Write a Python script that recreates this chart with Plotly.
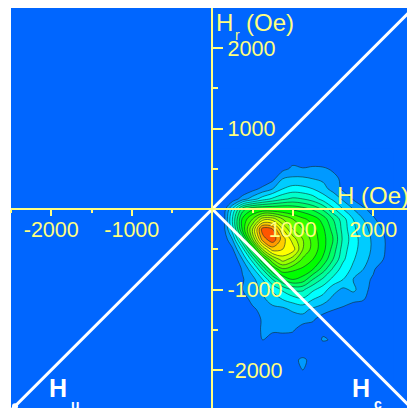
import plotly.graph_objects as go

# Grid of the distribution (Oe)
field_x = [125 * k for k in range(19)]
field_y = [750 - 125 * j for j in range(24)]

# density levels per row (top to bottom), columns follow field_x
density = [
 [0,0,0,0,0,0,0,0,0,0,0,0,0,0,0,0,0,0,0],
 [0,0,0,0,0,0,0,0,.6,0,0,0,0,0,0,0,0,0,0],
 [0,0,0,0,0,0,0,.7,1.2,1.1,1.3,1.2,.8,0,0,0,0,0,0],
 [0,0,0,0,0,0,.7,2.0,2.2,2.2,2.0,1.8,1.4,.7,0,0,0,0,0],
 [0,0,0,0,.6,1.3,2.0,3.0,3.4,3.3,3.0,2.4,1.6,.8,0,0,0,0,0],
 [0,0,.3,1.5,2.5,3.5,4.2,4.8,5.2,5.0,4.5,3.6,2.8,1.8,.9,.3,0,0,0],
 [0,0,3.0,6.5,7.8,8.0,8.0,8.0,7.8,7.4,6.8,5.8,4.2,3.0,2.0,1.2,.5,0,0],
 [0,0,4.0,8.2,10.0,12.5,12.5,11.0,10.0,9.2,8.6,7.6,6.0,4.4,3.0,2.0,1.2,.3,0],
 [0,.2,3.5,8.2,12.0,16.5,16.0,13.0,11.0,10.0,9.3,8.2,6.6,4.6,3.2,2.4,1.6,.9,0],
 [0,0,2.0,6.0,11.0,15.5,16.7,14.5,12.5,11.0,9.6,8.4,7.0,4.8,3.4,2.6,1.8,1.2,0],
 [0,0,.8,3.5,7.5,12.0,14.5,14.0,13.5,11.0,9.6,8.4,6.6,4.5,3.3,2.6,1.8,1.2,0],
 [0,0,0,2.0,4.5,8.0,11.0,12.5,11.5,9.8,9.0,7.8,6.0,4.2,3.1,2.4,1.6,1.0,0],
 [0,0,0,1.1,2.6,5.0,8.0,9.8,9.2,8.8,8.0,6.5,4.8,3.5,2.8,2.0,1.2,0,0],
 [0,0,0,.9,1.6,3.0,5.0,7.0,8.0,7.6,6.0,4.8,3.7,3.0,2.0,1.5,.8,0,0],
 [0,0,0,1.0,1.6,2.2,3.2,4.2,5.2,5.2,4.2,3.5,2.4,1.8,2.2,1.5,.5,0,0],
 [0,0,0,.5,1.3,1.8,2.4,3.0,3.4,3.8,3.0,2.5,1.7,1.7,1.4,1.1,.3,0,0],
 [0,0,0,0,.8,1.3,1.7,1.7,2.2,2.3,1.8,1.4,1.05,.7,0,0,0,0,0],
 [0,0,0,0,0,1.2,1.8,1.3,1.3,1.6,1.1,.5,0,0,0,0,0,0,0],
 [0,0,0,0,.2,1.2,1.3,1.4,1.2,.2,.6,.8,0,0,0,0,0,0,0],
 [0,0,0,0,.9,1.0,.3,.2,.3,0,.4,1.1,.9,0,0,0,0,0,0],
 [0,0,0,0,0,0,0,0,0,0,0,.3,0,0,0,0,0,0,0],
 [0,0,0,0,0,0,0,0,.6,1.3,.5,0,0,0,0,0,0,0,0],
 [0,0,0,0,0,0,0,0,0,1.0,0,0,0,0,0,0,0,0,0],
 [0,0,0,0,0,0,0,0,0,0,0,0,0,0,0,0,0,0,0],
]

band_colors = ["#0066ff","#0099ff","#00ccff","#00ffff","#00ffcc","#00ff99","#00ff66","#00ff33",
               "#00ff00","#33ff00","#66ff00","#99ff00","#ccff00","#ffff00","#ffcc00","#ff9900","#ff5500"]

# Diagonals (Oe)
diag_hu_hr_x = [-2500, 2500]
diag_hu_hr_y = [-2500, 2500]
diag_hc_x = [0, 2500]
diag_hc_y = [0, -2500]
corner_x = [-2450]
corner_y = [-2450]

major_ticks = [-2000, -1000, 1000, 2000]
minor_ticks = [-2500, -1500, -500, 500, 1500, 2500]
major_labels = ["-2000", "-1000", "1000", "2000"]

BLUE = "#0066ff"
YEL = "#ffff80"
W, H = 407, 408
L, T = 11, 8
X_RANGE = [-2500, 2419]
Y_RANGE = [-2472, 2497]

n = len(band_colors)
scale = []
for i, c in enumerate(band_colors):
    scale += [[i / n, c], [(i + 1) / n, c]]

fig = go.Figure()
fig.add_trace(go.Contour(
    x=field_x, y=field_y, z=density, zmin=0, zmax=n, colorscale=scale, showscale=False,
    autocontour=False, contours=dict(start=1, end=16, size=1, coloring="fill"),
    line=dict(color="#10302a", width=0.6), hoverinfo="skip"))
for xs, ys in [(diag_hu_hr_x, diag_hu_hr_y), (diag_hc_x, diag_hc_y)]:
    fig.add_trace(go.Scatter(x=xs, y=ys, mode="lines", line=dict(color="white", width=3),
                             showlegend=False, hoverinfo="skip"))
fig.add_trace(go.Scatter(x=corner_x, y=corner_y, mode="markers", marker=dict(color="white", size=6),
                         showlegend=False, hoverinfo="skip"))

font = dict(family="Liberation Sans, Arial", size=21.5, color=YEL)
def axis_common(minor_len):
    return dict(showgrid=False, zeroline=False, showline=True, linecolor=YEL, linewidth=2,
                tickmode="array", tickvals=major_ticks, ticktext=major_labels,
                ticks="outside", tickcolor=YEL, tickwidth=2, tickfont=font,
                anchor="free", layer="above traces",
                minor=dict(tickmode="array", tickvals=minor_ticks, ticks="outside",
                           ticklen=minor_len, tickcolor=YEL, tickwidth=2, showgrid=False))
fig.update_layout(
    width=W, height=H, margin=dict(l=L, r=0, t=T, b=0, pad=0, autoexpand=False),
    paper_bgcolor="white", plot_bgcolor=BLUE, showlegend=False,
    xaxis=dict(range=X_RANGE, position=-Y_RANGE[0] / (Y_RANGE[1] - Y_RANGE[0]), side="bottom",
               ticklen=6, ticklabelstandoff=-5, **axis_common(3)),
    yaxis=dict(range=Y_RANGE, position=-X_RANGE[0] / (X_RANGE[1] - X_RANGE[0]), side="right",
               ticklen=10, **axis_common(5)),
)

def note(text, px, py, size=24, color=YEL, bold=False):
    t = f"<b>{text}</b>" if bold else text
    fig.add_annotation(xref="paper", yref="paper", x=(px - L) / (W - L), y=(H - py) / (H - T),
                       xanchor="left", yanchor="middle", text=t, showarrow=False,
                       font=dict(family="Liberation Sans, Arial", size=size, color=color),
                       borderpad=0, borderwidth=0)

note("H", 216, 22)
note("r", 235, 35, size=14)
note("(Oe)", 246, 22)
note("H (Oe)", 337, 195)
note("H", 49, 388, size=25, color="white", bold=True)
note("u", 71, 405, size=14, color="white", bold=True)
note("H", 352, 388, size=25, color="white", bold=True)
note("c", 374, 404, size=14, color="white", bold=True)

fig.write_html("out.html", config=dict(displayModeBar=False),
               post_script="document.body.style.margin='0';document.body.style.overflow='hidden';")
